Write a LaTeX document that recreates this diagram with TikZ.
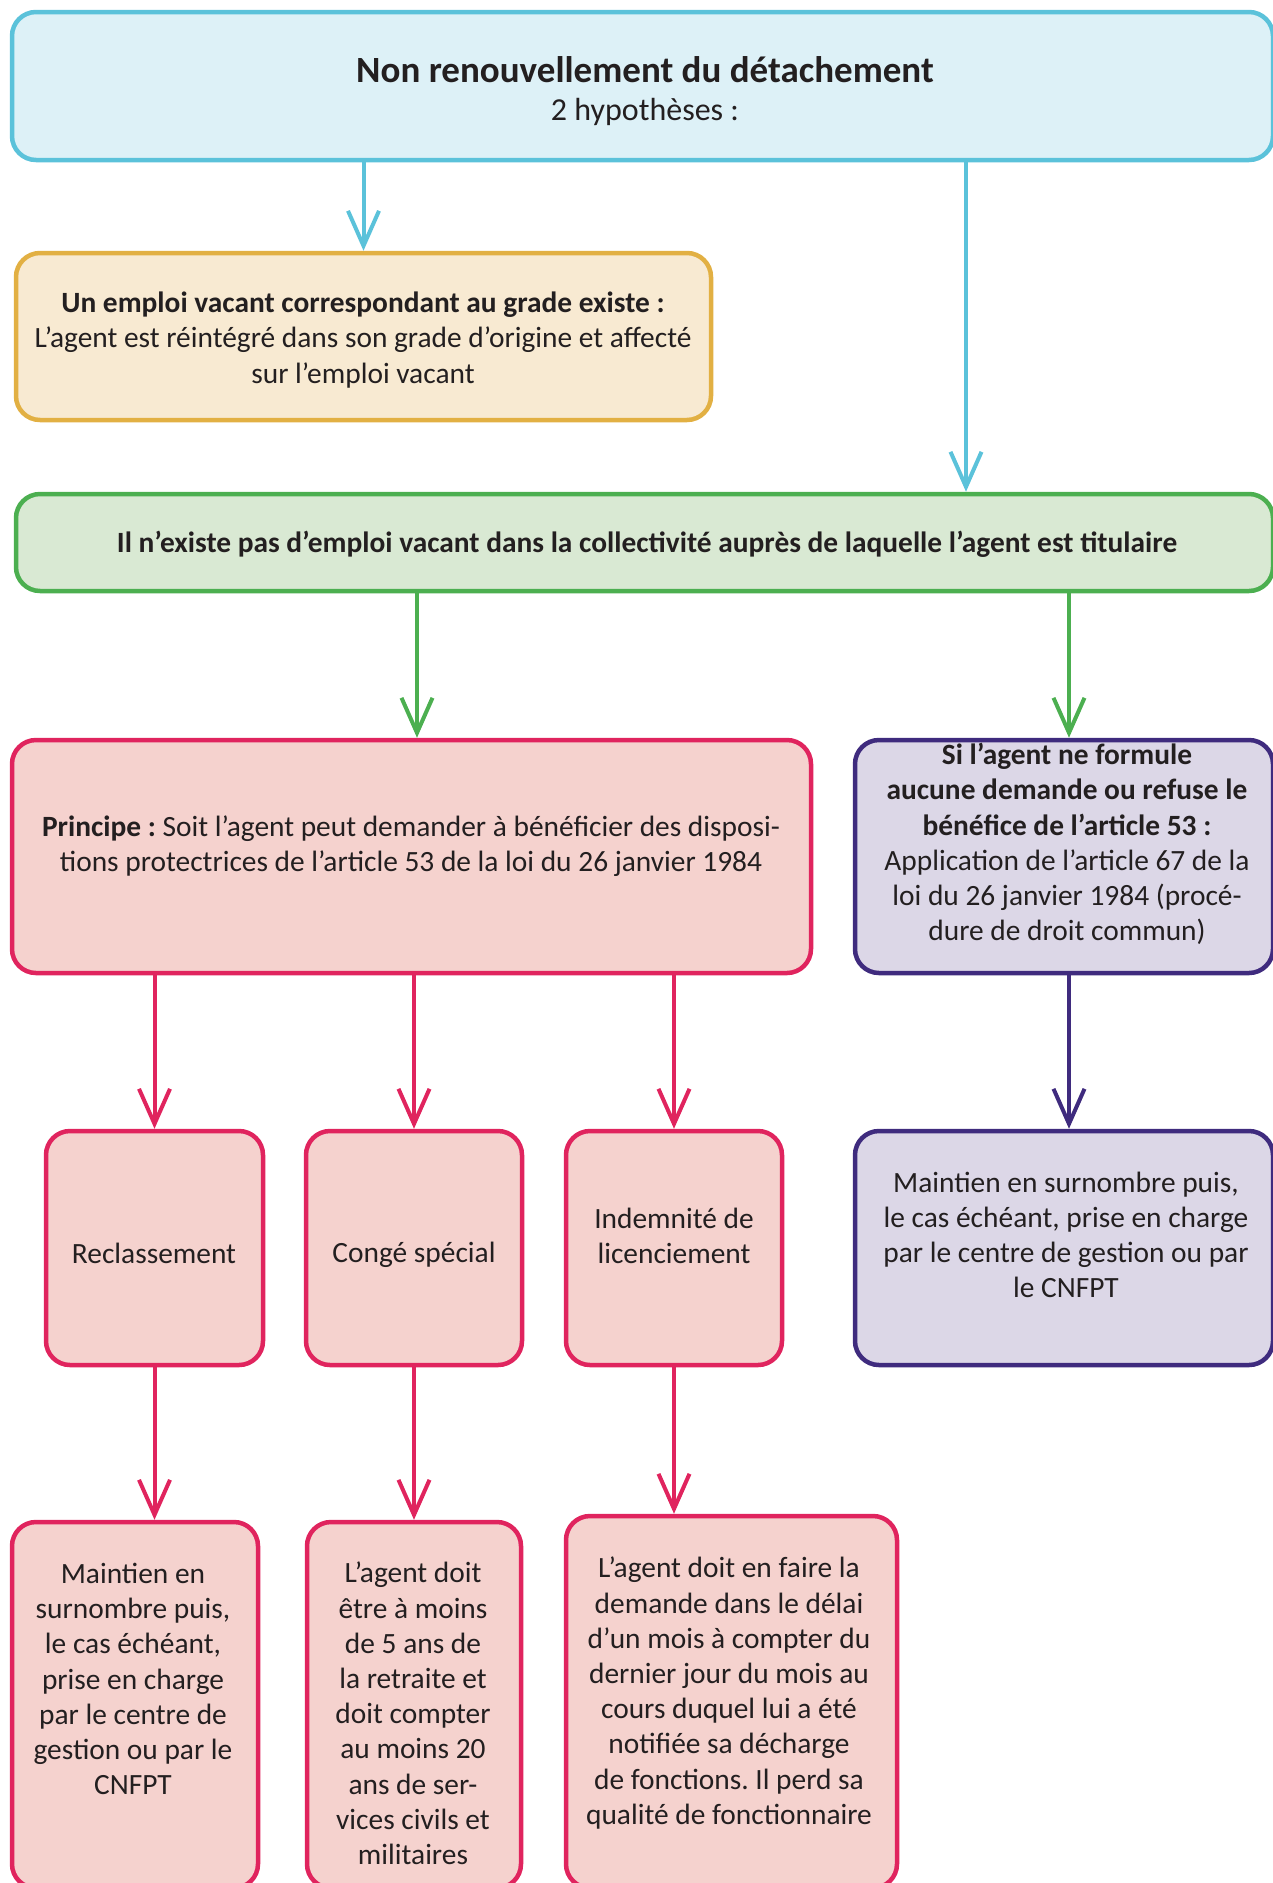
\documentclass[tikz,border=0pt]{standalone}
\usepackage{fontspec}
\setmainfont{Carlito}[Ligatures=TeX]
\usetikzlibrary{arrows.meta}
\frenchspacing
\definecolor{blueB}{HTML}{5BC2DA}
\definecolor{blueF}{HTML}{DDF1F7}
\definecolor{yelB}{HTML}{E2B043}
\definecolor{yelF}{HTML}{F8EAD2}
\definecolor{grnB}{HTML}{4CAF50}
\definecolor{grnF}{HTML}{D9E9D3}
\definecolor{pnkB}{HTML}{E0245E}
\definecolor{pnkF}{HTML}{F5D2CE}
\definecolor{purB}{HTML}{3F2B7E}
\definecolor{purF}{HTML}{DCD7E7}
\definecolor{txtC}{HTML}{231F20}
\begin{document}
\begin{tikzpicture}[x=1pt,y=-1pt,
  box/.style={draw, line width=4.5pt, rounded corners=24pt, inner sep=0pt},
  txt/.style={align=center, inner sep=0pt, text=txtC, font=\fontsize{29.4}{35.2}\selectfont},
  arr/.style={line width=4pt, -{Straight Barb[length=35pt,width=31pt]}},
]
\useasboundingbox (0,0) rectangle (1273,1883);
\clip (0,0) rectangle (1273,1883);

% boxes
\node[box, draw=blueB, fill=blueF, minimum width=1261pt, minimum height=148pt] (top) at (642.5,86) {};
\node[box, draw=yelB, fill=yelF, minimum width=695pt, minimum height=167pt] (yel) at (363.5,336.5) {};
\node[box, draw=grnB, fill=grnF, minimum width=1257pt, minimum height=97pt] (grn) at (644.5,542.5) {};
\node[box, draw=pnkB, fill=pnkF, minimum width=799pt, minimum height=233pt] (pri) at (411.5,856.5) {};
\node[box, draw=purB, fill=purF, minimum width=418pt, minimum height=233pt] (pur) at (1064,856.5) {};
\node[box, draw=pnkB, fill=pnkF, minimum width=217pt, minimum height=234pt] (rec) at (154.5,1248) {};
\node[box, draw=pnkB, fill=pnkF, minimum width=216pt, minimum height=234pt] (cong) at (414,1248) {};
\node[box, draw=pnkB, fill=pnkF, minimum width=216pt, minimum height=234pt] (ind) at (674,1248) {};
\node[box, draw=purB, fill=purF, minimum width=418pt, minimum height=234pt] (mai) at (1064,1248) {};
\node[box, draw=pnkB, fill=pnkF, minimum width=246pt, minimum height=366pt] (m1) at (135,1705) {};
\node[box, draw=pnkB, fill=pnkF, minimum width=214pt, minimum height=366pt] (m2) at (414,1705) {};
\node[box, draw=pnkB, fill=pnkF, minimum width=331pt, minimum height=372pt] (m3) at (731.5,1702) {};

% texts
\node[txt, font=\fontsize{37}{44}\selectfont\bfseries] (tTitle) at (645,70) {Non renouvellement du détachement};
\node[txt, font=\fontsize{32}{38}\selectfont] (tSub) at (645,112) {2 hypothèses :};
\node[txt] (tYel) at (363,340) {\textbf{Un emploi vacant correspondant au grade existe :}\\L’agent est réintégré dans son grade d’origine et affecté\\sur l’emploi vacant};
\node[txt, font=\fontsize{29.4}{35.2}\selectfont\bfseries] (tGrn) at (647,544) {Il n’existe pas d’emploi vacant dans la collectivité auprès de laquelle l’agent est titulaire};
\node[txt] (tPri) at (411,846) {\textbf{Principe :} Soit l’agent peut demander à bénéficier des disposi-\\tions protectrices de l’article 53 de la loi du 26 janvier 1984};
\node[txt] (tPur) at (1067,844) {\textbf{Si l’agent ne formule}\\\textbf{aucune demande ou refuse le}\\\textbf{bénéfice de l’article 53 :}\\Application de l’article 67 de la\\loi du 26 janvier 1984 (procé-\\dure de droit commun)};
\node[txt] (tRec) at (154,1253) {Reclassement};
\node[txt] (tCong) at (414,1255) {Congé spécial};
\node[txt] (tInd) at (674,1236) {Indemnité de\\licenciement};
\node[txt] (tMai) at (1066,1235) {Maintien en surnombre puis,\\le cas échéant, prise en charge\\par le centre de gestion ou par\\le CNFPT};
\node[txt, anchor=north] (tM1) at (133,1563) {Maintien en\\surnombre puis,\\le cas échéant,\\prise en charge\\par le centre de\\gestion ou par le\\CNFPT};
\node[txt, anchor=north] (tM2) at (413,1562) {L’agent doit\\être à moins\\de 5 ans de\\la retraite et\\doit compter\\au moins 20\\ans de ser-\\vices civils et\\militaires};
\node[txt, anchor=north] (tM3) at (729,1557) {L’agent doit en faire la\\demande dans le délai\\d’un mois à compter du\\dernier jour du mois au\\cours duquel lui a été\\notifiée sa décharge\\de fonctions. Il perd sa\\qualité de fonctionnaire};

% helper x positions
\coordinate (xb) at (966,0);
\coordinate (xg1) at (417,0);
\coordinate (xg2) at (1069,0);

% connectors
\draw[arr, blueB] (top.south -| yel.north) -- (yel.north);
\draw[arr, blueB] (top.south -| xb) -- (grn.north -| xb);
\draw[arr, grnB] (grn.south -| xg1) -- (pri.north -| xg1);
\draw[arr, grnB] (grn.south -| xg2) -- (pur.north -| xg2);
\draw[arr, pnkB] (pri.south -| rec) -- (rec.north);
\draw[arr, pnkB] (pri.south -| cong) -- (cong.north);
\draw[arr, pnkB] (pri.south -| ind) -- (ind.north);
\draw[arr, purB] (pur.south -| xg2) -- (mai.north -| xg2);
\draw[arr, pnkB] (rec.south) -- (m1.north -| rec);
\draw[arr, pnkB] (cong.south) -- (m2.north -| cong);
\draw[arr, pnkB] (ind.south) -- (m3.north -| ind);
\end{tikzpicture}
\end{document}
